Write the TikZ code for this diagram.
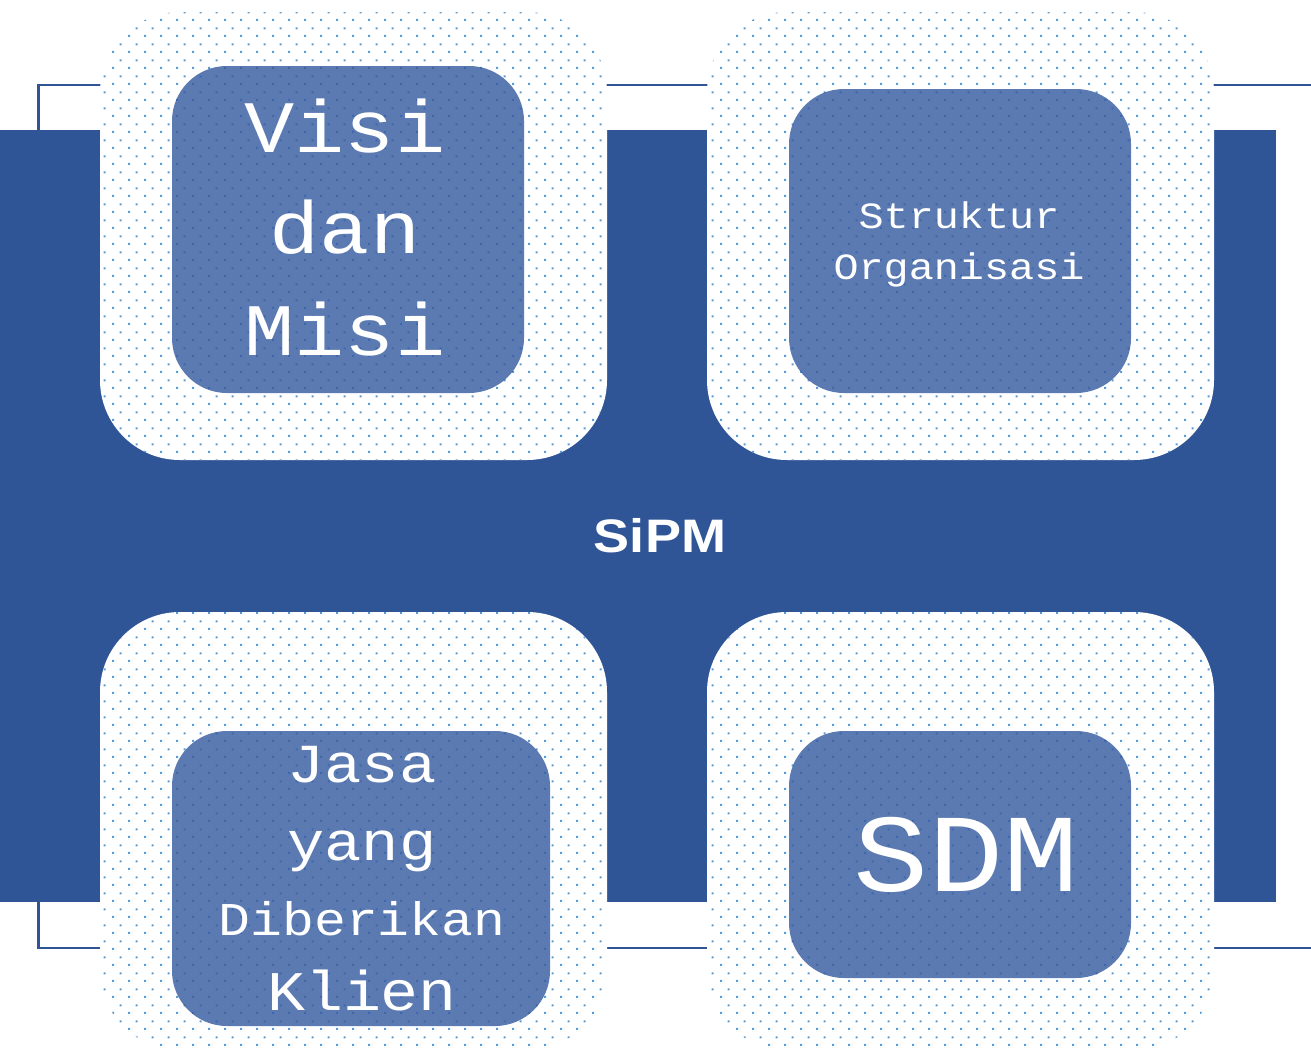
\documentclass[tikz,border=0pt]{standalone}
\usepackage{fontspec}
\usepackage{graphicx}
\usetikzlibrary{patterns.meta}
\newfontfamily\monofnt{Liberation Mono}[FakeStretch=1.13]
\newfontfamily\sansfnt{Liberation Sans}
\definecolor{mainblue}{HTML}{2F5597}
\definecolor{dotlight}{HTML}{5B9BD5}
\definecolor{innerblue}{HTML}{5A7AB1}
\definecolor{dotdark}{HTML}{3F68AC}
\tikzdeclarepattern{
  name=sdots,
  type=uncolored,
  bounding box={(0pt,0pt) and (16pt,16pt)},
  tile size={(16pt,16pt)},
  code={
    \pgfpathrectangle{\pgfpoint{0pt}{0pt}}{\pgfpoint{2.3pt}{2.3pt}}
    \pgfpathrectangle{\pgfpoint{8pt}{8pt}}{\pgfpoint{2.3pt}{2.3pt}}
    \pgfusepath{fill}
  }
}
\tikzset{
  outerbox/.style={rectangle, rounded corners=80pt, inner sep=0pt, draw=none, fill=white,
    postaction={pattern=sdots, pattern color=dotlight}},
  innerbox/.style={rectangle, rounded corners=55pt, inner sep=0pt, draw=none, fill=innerblue,
    postaction={pattern=sdots, pattern color=dotdark}},
  txt/.style={anchor=base, text=white, inner sep=0pt},
  frameline/.style={draw=mainblue, line width=2.6pt, line join=miter}
}
\begin{document}
\begin{tikzpicture}[x=1pt,y=-1pt]
\useasboundingbox (0,0) rectangle (1311,1061);
\fill[white] (0,0) rectangle (1311,1061);
% frame lines
\coordinate (f1) at (1311,85);
\coordinate (f2) at (38.5,85);
\coordinate (f3) at (38.5,948);
\coordinate (f4) at (1311,948);
\draw[frameline] (f1) -- (f2) -- (f3) -- (f4);
% main blue band
\fill[mainblue] (0,130) rectangle (1276,902);
% outer dotted boxes
\node[outerbox, minimum width=507pt, minimum height=448pt] (otl) at (353.5,236) {};
\node[outerbox, minimum width=507pt, minimum height=448pt] (otr) at (960.5,236) {};
\node[outerbox, minimum width=507pt, minimum height=438pt] (obl) at (353.5,831) {};
\node[outerbox, minimum width=507pt, minimum height=438pt] (obr) at (960.5,831) {};
% inner boxes
\node[innerbox, minimum width=352pt, minimum height=327pt] (itl) at (348,229.5) {};
\node[innerbox, minimum width=342pt, minimum height=304pt] (itr) at (960,241) {};
\node[innerbox, minimum width=378pt, minimum height=295pt] (ibl) at (361,878.5) {};
\node[innerbox, minimum width=342pt, minimum height=247pt] (ibr) at (960,854.5) {};
% texts
\node[txt, font=\monofnt\fontsize{74}{80}\selectfont] (t1) at (345,152) {Visi};
\node[txt, font=\monofnt\fontsize{74}{80}\selectfont] (t2) at (345,253) {dan};
\node[txt, font=\monofnt\fontsize{74}{80}\selectfont] (t3) at (345,355) {Misi};
\node[txt, font=\monofnt\fontsize{37}{42}\selectfont] (t4) at (959,228) {Struktur};
\node[txt, font=\monofnt\fontsize{37}{42}\selectfont] (t5) at (959,279) {Organisasi};
\node[txt, font=\monofnt\fontsize{55}{60}\selectfont] (t6) at (362,782) {Jasa};
\node[txt, font=\monofnt\fontsize{55}{60}\selectfont] (t7) at (362,860) {yang};
\node[txt, font=\monofnt\fontsize{47}{52}\selectfont] (t8) at (362,935) {Diberikan};
\node[txt, font=\monofnt\fontsize{56}{60}\selectfont] (t9) at (362,1010) {Klien};
\node[txt, font=\monofnt\fontsize{111}{116}\selectfont] (t10) at (966,891) {SDM};
\node[txt, font=\sansfnt\bfseries\fontsize{47}{52}\selectfont] (sipm) at (660,552) {\scalebox{1.15}[1]{SiPM}};
\end{tikzpicture}
\end{document}
